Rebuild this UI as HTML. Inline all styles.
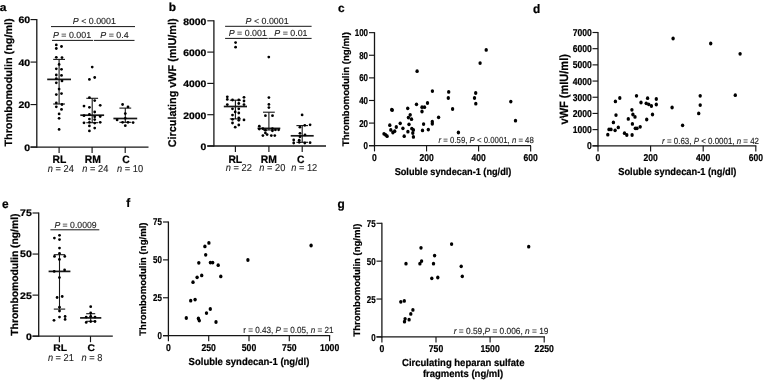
<!DOCTYPE html>
<html><head><meta charset="utf-8"><title>Figure</title>
<style>
html,body{margin:0;padding:0;background:#fff;}
body{width:763px;height:381px;overflow:hidden;}
svg{will-change:transform;display:block;position:absolute;left:0;top:0;font-family:"Liberation Sans", sans-serif;}
</style></head><body>
<svg width="763" height="381" viewBox="0 0 763 381" text-rendering="geometricPrecision">
<rect width="763" height="381" fill="#fff"/>
<g fill="#000">
<text transform="translate(-0.20 10.70) scale(1.1 1)" font-size="11.0" font-weight="bold" fill="#000" stroke="#000" stroke-width="0.22">a</text>
<line x1="36.80" y1="19.00" x2="36.80" y2="147.65" stroke="#161616" stroke-width="1.3"/>
<line x1="30.50" y1="147.05" x2="148.50" y2="147.05" stroke="#161616" stroke-width="1.3"/>
<line x1="30.50" y1="147.05" x2="36.80" y2="147.05" stroke="#161616" stroke-width="1.15"/>
<text transform="translate(30.20 150.85) scale(1.125 1)" font-size="9.41" font-weight="bold" text-anchor="end" fill="#000" stroke="#000" stroke-width="0.22">0</text>
<line x1="30.50" y1="104.57" x2="36.80" y2="104.57" stroke="#161616" stroke-width="1.15"/>
<text transform="translate(30.20 108.37) scale(1.125 1)" font-size="9.41" font-weight="bold" text-anchor="end" fill="#000" stroke="#000" stroke-width="0.22">20</text>
<line x1="30.50" y1="62.08" x2="36.80" y2="62.08" stroke="#161616" stroke-width="1.15"/>
<text transform="translate(30.20 65.88) scale(1.125 1)" font-size="9.41" font-weight="bold" text-anchor="end" fill="#000" stroke="#000" stroke-width="0.22">40</text>
<line x1="30.50" y1="19.60" x2="36.80" y2="19.60" stroke="#161616" stroke-width="1.15"/>
<text transform="translate(30.20 23.40) scale(1.125 1)" font-size="9.41" font-weight="bold" text-anchor="end" fill="#000" stroke="#000" stroke-width="0.22">60</text>
<line x1="59.10" y1="147.05" x2="59.10" y2="153.05" stroke="#161616" stroke-width="1.15"/>
<line x1="92.10" y1="147.05" x2="92.10" y2="153.05" stroke="#161616" stroke-width="1.15"/>
<line x1="125.20" y1="147.05" x2="125.20" y2="153.05" stroke="#161616" stroke-width="1.15"/>
<text transform="translate(12.00 146.60) rotate(-90) scale(1.0236 1)" font-size="10.6" font-weight="bold" fill="#000" stroke="#000" stroke-width="0.22">Thrombomodulin (ng/ml)</text>
<text transform="translate(59.40 162.70) scale(0.9643 1)" font-size="10.75" font-weight="bold" text-anchor="middle" fill="#000" stroke="#000" stroke-width="0.22">RL</text>
<text transform="translate(60.80 172.20) scale(0.9196 1)" font-size="10.08" text-anchor="middle" fill="#222" stroke="#222" stroke-width="0.12"><tspan font-style="italic">n</tspan> = 24</text>
<text transform="translate(92.70 162.70) scale(0.9643 1)" font-size="10.75" font-weight="bold" text-anchor="middle" fill="#000" stroke="#000" stroke-width="0.22">RM</text>
<text transform="translate(95.30 172.20) scale(0.9196 1)" font-size="10.08" text-anchor="middle" fill="#222" stroke="#222" stroke-width="0.12"><tspan font-style="italic">n</tspan> = 24</text>
<text transform="translate(126.00 162.70) scale(0.9643 1)" font-size="10.75" font-weight="bold" text-anchor="middle" fill="#000" stroke="#000" stroke-width="0.22">C</text>
<text transform="translate(130.10 172.20) scale(0.9196 1)" font-size="10.08" text-anchor="middle" fill="#222" stroke="#222" stroke-width="0.12"><tspan font-style="italic">n</tspan> = 10</text>
<line x1="51.00" y1="26.60" x2="135.00" y2="26.60" stroke="#161616" stroke-width="1.0"/>
<line x1="52.00" y1="40.40" x2="93.20" y2="40.40" stroke="#161616" stroke-width="1.0"/>
<line x1="94.00" y1="40.40" x2="134.50" y2="40.40" stroke="#161616" stroke-width="1.0"/>
<text transform="translate(94.30 23.50) scale(1.0098 1)" font-size="8.77" text-anchor="middle" fill="#222" stroke="#222" stroke-width="0.12"><tspan font-style="italic">P</tspan> &lt; 0.0001</text>
<text transform="translate(72.00 37.80) scale(1.0098 1)" font-size="8.77" text-anchor="middle" fill="#222" stroke="#222" stroke-width="0.12"><tspan font-style="italic">P</tspan> = 0.001</text>
<text transform="translate(114.50 37.80) scale(1.0098 1)" font-size="8.77" text-anchor="middle" fill="#222" stroke="#222" stroke-width="0.12"><tspan font-style="italic">P</tspan> = 0.4</text>
<line x1="59.10" y1="59.40" x2="59.10" y2="104.00" stroke="#161616" stroke-width="1.1"/>
<line x1="53.20" y1="59.40" x2="65.00" y2="59.40" stroke="#161616" stroke-width="1.1"/>
<line x1="53.20" y1="104.00" x2="65.00" y2="104.00" stroke="#161616" stroke-width="1.1"/>
<line x1="47.20" y1="79.40" x2="71.00" y2="79.40" stroke="#161616" stroke-width="1.7"/>
<line x1="92.20" y1="98.30" x2="92.20" y2="122.70" stroke="#161616" stroke-width="1.1"/>
<line x1="86.30" y1="98.30" x2="98.10" y2="98.30" stroke="#161616" stroke-width="1.1"/>
<line x1="86.30" y1="122.70" x2="98.10" y2="122.70" stroke="#161616" stroke-width="1.1"/>
<line x1="80.30" y1="115.20" x2="104.10" y2="115.20" stroke="#161616" stroke-width="1.7"/>
<line x1="125.30" y1="108.10" x2="125.30" y2="122.30" stroke="#161616" stroke-width="1.1"/>
<line x1="119.40" y1="108.10" x2="131.20" y2="108.10" stroke="#161616" stroke-width="1.1"/>
<line x1="119.40" y1="122.30" x2="131.20" y2="122.30" stroke="#161616" stroke-width="1.1"/>
<line x1="113.40" y1="118.50" x2="137.20" y2="118.50" stroke="#161616" stroke-width="1.7"/>
<circle cx="56.3" cy="44.9" r="1.38"/>
<circle cx="56.3" cy="48.5" r="1.38"/>
<circle cx="61.5" cy="46.5" r="1.38"/>
<circle cx="56.3" cy="57.3" r="1.38"/>
<circle cx="62.0" cy="57.6" r="1.38"/>
<circle cx="59.1" cy="64.4" r="1.38"/>
<circle cx="56.3" cy="68.8" r="1.38"/>
<circle cx="61.5" cy="69.3" r="1.38"/>
<circle cx="56.3" cy="75.0" r="1.38"/>
<circle cx="61.5" cy="75.4" r="1.38"/>
<circle cx="56.3" cy="78.6" r="1.38"/>
<circle cx="62.0" cy="80.9" r="1.38"/>
<circle cx="56.3" cy="82.8" r="1.38"/>
<circle cx="59.1" cy="89.1" r="1.38"/>
<circle cx="56.3" cy="94.6" r="1.38"/>
<circle cx="61.5" cy="93.6" r="1.38"/>
<circle cx="62.0" cy="104.5" r="1.38"/>
<circle cx="56.3" cy="102.9" r="1.38"/>
<circle cx="56.3" cy="106.8" r="1.38"/>
<circle cx="61.5" cy="109.4" r="1.38"/>
<circle cx="59.1" cy="113.9" r="1.38"/>
<circle cx="59.1" cy="118.3" r="1.38"/>
<circle cx="59.1" cy="129.4" r="1.38"/>
<circle cx="92.2" cy="67.1" r="1.38"/>
<circle cx="89.4" cy="79.4" r="1.38"/>
<circle cx="94.7" cy="77.5" r="1.38"/>
<circle cx="89.4" cy="97.6" r="1.38"/>
<circle cx="94.7" cy="100.6" r="1.38"/>
<circle cx="84.0" cy="106.1" r="1.38"/>
<circle cx="89.4" cy="107.3" r="1.38"/>
<circle cx="100.2" cy="105.3" r="1.38"/>
<circle cx="94.7" cy="112.0" r="1.38"/>
<circle cx="89.4" cy="114.4" r="1.38"/>
<circle cx="84.0" cy="115.7" r="1.38"/>
<circle cx="100.2" cy="116.5" r="1.38"/>
<circle cx="94.7" cy="116.8" r="1.38"/>
<circle cx="89.4" cy="119.1" r="1.38"/>
<circle cx="94.7" cy="119.6" r="1.38"/>
<circle cx="84.0" cy="122.8" r="1.38"/>
<circle cx="100.2" cy="122.3" r="1.38"/>
<circle cx="89.4" cy="122.3" r="1.38"/>
<circle cx="94.7" cy="123.1" r="1.38"/>
<circle cx="89.4" cy="125.9" r="1.38"/>
<circle cx="94.7" cy="128.1" r="1.38"/>
<circle cx="89.4" cy="130.9" r="1.38"/>
<circle cx="122.6" cy="104.5" r="1.38"/>
<circle cx="128.0" cy="106.9" r="1.38"/>
<circle cx="125.3" cy="113.6" r="1.38"/>
<circle cx="117.1" cy="119.9" r="1.38"/>
<circle cx="125.3" cy="118.3" r="1.38"/>
<circle cx="122.6" cy="122.3" r="1.38"/>
<circle cx="128.0" cy="122.3" r="1.38"/>
<circle cx="133.1" cy="122.6" r="1.38"/>
<circle cx="125.3" cy="125.7" r="1.38"/>
<text transform="translate(168.70 10.90) scale(1.0189 1)" font-size="11.66" font-weight="bold" fill="#000" stroke="#000" stroke-width="0.22">b</text>
<line x1="213.90" y1="20.20" x2="213.90" y2="146.60" stroke="#161616" stroke-width="1.3"/>
<line x1="207.30" y1="146.00" x2="326.00" y2="146.00" stroke="#161616" stroke-width="1.3"/>
<line x1="207.30" y1="146.00" x2="213.90" y2="146.00" stroke="#161616" stroke-width="1.15"/>
<text transform="translate(206.40 149.90) scale(1.1042 1)" font-size="9.41" font-weight="bold" text-anchor="end" fill="#000" stroke="#000" stroke-width="0.22">0</text>
<line x1="207.30" y1="114.70" x2="213.90" y2="114.70" stroke="#161616" stroke-width="1.15"/>
<text transform="translate(206.40 118.60) scale(1.1042 1)" font-size="9.41" font-weight="bold" text-anchor="end" fill="#000" stroke="#000" stroke-width="0.22">2000</text>
<line x1="207.30" y1="83.40" x2="213.90" y2="83.40" stroke="#161616" stroke-width="1.15"/>
<text transform="translate(206.40 87.30) scale(1.1042 1)" font-size="9.41" font-weight="bold" text-anchor="end" fill="#000" stroke="#000" stroke-width="0.22">4000</text>
<line x1="207.30" y1="52.10" x2="213.90" y2="52.10" stroke="#161616" stroke-width="1.15"/>
<text transform="translate(206.40 56.00) scale(1.1042 1)" font-size="9.41" font-weight="bold" text-anchor="end" fill="#000" stroke="#000" stroke-width="0.22">6000</text>
<line x1="207.30" y1="20.80" x2="213.90" y2="20.80" stroke="#161616" stroke-width="1.15"/>
<text transform="translate(206.40 24.70) scale(1.1042 1)" font-size="9.41" font-weight="bold" text-anchor="end" fill="#000" stroke="#000" stroke-width="0.22">8000</text>
<line x1="235.40" y1="146.00" x2="235.40" y2="152.00" stroke="#161616" stroke-width="1.15"/>
<line x1="268.90" y1="146.00" x2="268.90" y2="152.00" stroke="#161616" stroke-width="1.15"/>
<line x1="302.20" y1="146.00" x2="302.20" y2="152.00" stroke="#161616" stroke-width="1.15"/>
<text transform="translate(175.80 147.30) rotate(-90) scale(0.9687 1)" font-size="11.2" font-weight="bold" fill="#000" stroke="#000" stroke-width="0.22">Circulating vWF (mIU/ml)</text>
<text transform="translate(235.30 163.00) scale(0.9643 1)" font-size="10.75" font-weight="bold" text-anchor="middle" fill="#000" stroke="#000" stroke-width="0.22">RL</text>
<text transform="translate(238.80 171.40) scale(0.9196 1)" font-size="10.08" text-anchor="middle" fill="#222" stroke="#222" stroke-width="0.12"><tspan font-style="italic">n</tspan> = 22</text>
<text transform="translate(268.80 163.00) scale(0.9643 1)" font-size="10.75" font-weight="bold" text-anchor="middle" fill="#000" stroke="#000" stroke-width="0.22">RM</text>
<text transform="translate(272.30 171.40) scale(0.9196 1)" font-size="10.08" text-anchor="middle" fill="#222" stroke="#222" stroke-width="0.12"><tspan font-style="italic">n</tspan> = 20</text>
<text transform="translate(300.70 163.00) scale(0.9643 1)" font-size="10.75" font-weight="bold" text-anchor="middle" fill="#000" stroke="#000" stroke-width="0.22">C</text>
<text transform="translate(304.20 171.40) scale(0.9196 1)" font-size="10.08" text-anchor="middle" fill="#222" stroke="#222" stroke-width="0.12"><tspan font-style="italic">n</tspan> = 12</text>
<line x1="225.10" y1="26.30" x2="311.60" y2="26.30" stroke="#161616" stroke-width="1.0"/>
<line x1="225.10" y1="38.40" x2="267.80" y2="38.40" stroke="#161616" stroke-width="1.0"/>
<line x1="268.50" y1="38.40" x2="311.60" y2="38.40" stroke="#161616" stroke-width="1.0"/>
<text transform="translate(267.10 23.60) scale(1.0098 1)" font-size="8.77" text-anchor="middle" fill="#222" stroke="#222" stroke-width="0.12"><tspan font-style="italic">P</tspan> &lt; 0.0001</text>
<text transform="translate(247.80 36.00) scale(1.0098 1)" font-size="8.77" text-anchor="middle" fill="#222" stroke="#222" stroke-width="0.12"><tspan font-style="italic">P</tspan> = 0.001</text>
<text transform="translate(290.90 36.00) scale(1.0098 1)" font-size="8.77" text-anchor="middle" fill="#222" stroke="#222" stroke-width="0.12"><tspan font-style="italic">P</tspan> = 0.01</text>
<line x1="235.40" y1="100.20" x2="235.40" y2="118.90" stroke="#161616" stroke-width="1.1"/>
<line x1="229.80" y1="100.20" x2="241.00" y2="100.20" stroke="#161616" stroke-width="1.1"/>
<line x1="229.80" y1="118.90" x2="241.00" y2="118.90" stroke="#161616" stroke-width="1.1"/>
<line x1="223.80" y1="106.50" x2="247.00" y2="106.50" stroke="#161616" stroke-width="1.7"/>
<line x1="268.90" y1="112.20" x2="268.90" y2="130.00" stroke="#161616" stroke-width="1.1"/>
<line x1="263.00" y1="112.20" x2="274.80" y2="112.20" stroke="#161616" stroke-width="1.1"/>
<line x1="263.00" y1="130.00" x2="274.80" y2="130.00" stroke="#161616" stroke-width="1.1"/>
<line x1="257.50" y1="128.40" x2="280.30" y2="128.40" stroke="#161616" stroke-width="1.7"/>
<line x1="302.20" y1="125.60" x2="302.20" y2="142.30" stroke="#161616" stroke-width="1.1"/>
<line x1="296.40" y1="125.60" x2="308.00" y2="125.60" stroke="#161616" stroke-width="1.1"/>
<line x1="296.40" y1="142.30" x2="308.00" y2="142.30" stroke="#161616" stroke-width="1.1"/>
<line x1="290.70" y1="135.80" x2="313.70" y2="135.80" stroke="#161616" stroke-width="1.7"/>
<circle cx="235.6" cy="42.6" r="1.38"/>
<circle cx="235.6" cy="47.2" r="1.38"/>
<circle cx="268.8" cy="57.1" r="1.38"/>
<circle cx="227.3" cy="96.8" r="1.38"/>
<circle cx="227.3" cy="99.4" r="1.38"/>
<circle cx="232.5" cy="100.0" r="1.38"/>
<circle cx="238.8" cy="100.0" r="1.38"/>
<circle cx="244.0" cy="97.3" r="1.38"/>
<circle cx="244.0" cy="101.0" r="1.38"/>
<circle cx="227.3" cy="104.6" r="1.38"/>
<circle cx="238.8" cy="103.5" r="1.38"/>
<circle cx="244.0" cy="104.6" r="1.38"/>
<circle cx="232.5" cy="108.8" r="1.38"/>
<circle cx="238.8" cy="108.8" r="1.38"/>
<circle cx="235.2" cy="111.9" r="1.38"/>
<circle cx="238.8" cy="113.0" r="1.38"/>
<circle cx="232.5" cy="115.1" r="1.38"/>
<circle cx="238.8" cy="117.8" r="1.38"/>
<circle cx="232.5" cy="119.3" r="1.38"/>
<circle cx="238.8" cy="120.3" r="1.38"/>
<circle cx="244.0" cy="119.9" r="1.38"/>
<circle cx="232.5" cy="123.0" r="1.38"/>
<circle cx="238.8" cy="125.0" r="1.38"/>
<circle cx="235.2" cy="127.2" r="1.38"/>
<circle cx="268.9" cy="97.6" r="1.38"/>
<circle cx="268.9" cy="104.4" r="1.38"/>
<circle cx="268.9" cy="107.6" r="1.38"/>
<circle cx="272.5" cy="115.7" r="1.38"/>
<circle cx="265.4" cy="115.7" r="1.38"/>
<circle cx="259.3" cy="126.2" r="1.38"/>
<circle cx="259.3" cy="129.1" r="1.38"/>
<circle cx="262.9" cy="128.7" r="1.38"/>
<circle cx="265.4" cy="130.2" r="1.38"/>
<circle cx="272.4" cy="128.7" r="1.38"/>
<circle cx="275.5" cy="129.8" r="1.38"/>
<circle cx="278.6" cy="129.8" r="1.38"/>
<circle cx="272.4" cy="130.8" r="1.38"/>
<circle cx="265.4" cy="132.9" r="1.38"/>
<circle cx="262.9" cy="135.6" r="1.38"/>
<circle cx="267.1" cy="134.6" r="1.38"/>
<circle cx="271.3" cy="135.6" r="1.38"/>
<circle cx="274.8" cy="135.6" r="1.38"/>
<circle cx="302.1" cy="114.9" r="1.38"/>
<circle cx="304.8" cy="125.3" r="1.38"/>
<circle cx="310.1" cy="124.8" r="1.38"/>
<circle cx="299.9" cy="127.2" r="1.38"/>
<circle cx="300.0" cy="133.3" r="1.38"/>
<circle cx="305.0" cy="134.9" r="1.38"/>
<circle cx="300.0" cy="136.8" r="1.38"/>
<circle cx="293.7" cy="140.0" r="1.38"/>
<circle cx="299.2" cy="140.2" r="1.38"/>
<circle cx="293.7" cy="143.0" r="1.38"/>
<circle cx="299.2" cy="142.3" r="1.38"/>
<circle cx="304.8" cy="143.0" r="1.38"/>
<circle cx="310.1" cy="142.7" r="1.38"/>
<text transform="translate(338.00 11.70) scale(1.0189 1)" font-size="11.66" font-weight="bold" fill="#000" stroke="#000" stroke-width="0.22">c</text>
<line x1="374.50" y1="32.15" x2="374.50" y2="146.30" stroke="#161616" stroke-width="1.3"/>
<line x1="369.00" y1="145.70" x2="531.00" y2="145.70" stroke="#161616" stroke-width="1.3"/>
<line x1="369.00" y1="145.70" x2="374.50" y2="145.70" stroke="#161616" stroke-width="1.15"/>
<text transform="translate(368.00 149.20) scale(0.7969 1)" font-size="9.98" font-weight="bold" text-anchor="end" fill="#000" stroke="#000" stroke-width="0.22">0</text>
<line x1="369.00" y1="123.09" x2="374.50" y2="123.09" stroke="#161616" stroke-width="1.15"/>
<text transform="translate(368.00 126.59) scale(0.7969 1)" font-size="9.98" font-weight="bold" text-anchor="end" fill="#000" stroke="#000" stroke-width="0.22">20</text>
<line x1="369.00" y1="100.48" x2="374.50" y2="100.48" stroke="#161616" stroke-width="1.15"/>
<text transform="translate(368.00 103.98) scale(0.7969 1)" font-size="9.98" font-weight="bold" text-anchor="end" fill="#000" stroke="#000" stroke-width="0.22">40</text>
<line x1="369.00" y1="77.87" x2="374.50" y2="77.87" stroke="#161616" stroke-width="1.15"/>
<text transform="translate(368.00 81.37) scale(0.7969 1)" font-size="9.98" font-weight="bold" text-anchor="end" fill="#000" stroke="#000" stroke-width="0.22">60</text>
<line x1="369.00" y1="55.26" x2="374.50" y2="55.26" stroke="#161616" stroke-width="1.15"/>
<text transform="translate(368.00 58.76) scale(0.7969 1)" font-size="9.98" font-weight="bold" text-anchor="end" fill="#000" stroke="#000" stroke-width="0.22">80</text>
<line x1="369.00" y1="32.65" x2="374.50" y2="32.65" stroke="#161616" stroke-width="1.15"/>
<text transform="translate(368.00 36.15) scale(0.7969 1)" font-size="9.98" font-weight="bold" text-anchor="end" fill="#000" stroke="#000" stroke-width="0.22">100</text>
<line x1="374.50" y1="145.70" x2="374.50" y2="151.40" stroke="#161616" stroke-width="1.15"/>
<text transform="translate(374.50 161.20) scale(0.8594 1)" font-size="9.98" font-weight="bold" text-anchor="middle" fill="#000" stroke="#000" stroke-width="0.22">0</text>
<line x1="426.55" y1="145.70" x2="426.55" y2="151.40" stroke="#161616" stroke-width="1.15"/>
<text transform="translate(426.55 161.20) scale(0.8594 1)" font-size="9.98" font-weight="bold" text-anchor="middle" fill="#000" stroke="#000" stroke-width="0.22">200</text>
<line x1="478.60" y1="145.70" x2="478.60" y2="151.40" stroke="#161616" stroke-width="1.15"/>
<text transform="translate(478.60 161.20) scale(0.8594 1)" font-size="9.98" font-weight="bold" text-anchor="middle" fill="#000" stroke="#000" stroke-width="0.22">400</text>
<line x1="530.65" y1="145.70" x2="530.65" y2="151.40" stroke="#161616" stroke-width="1.15"/>
<text transform="translate(530.65 161.20) scale(0.8594 1)" font-size="9.98" font-weight="bold" text-anchor="middle" fill="#000" stroke="#000" stroke-width="0.22">600</text>
<text transform="translate(348.70 146.20) rotate(-90) scale(1.0113 1)" font-size="9.54" font-weight="bold" fill="#000" stroke="#000" stroke-width="0.22">Thrombomodulin (ng/ml)</text>
<text transform="translate(453.00 174.90) scale(0.9291 1)" font-size="9.9" font-weight="bold" text-anchor="middle" fill="#000" stroke="#000" stroke-width="0.22">Soluble syndecan-1 (ng/dl)</text>
<text transform="translate(533.80 143.20) scale(0.8929 1)" font-size="8.74" text-anchor="end" fill="#222" stroke="#222" stroke-width="0.12"><tspan font-style="italic">r</tspan> = 0.59, <tspan font-style="italic">P</tspan> &lt; 0.0001, <tspan font-style="italic">n</tspan> = 48</text>
<ellipse cx="486.2" cy="49.9" rx="1.68" ry="1.92"/>
<ellipse cx="480.1" cy="63.1" rx="1.68" ry="1.92"/>
<ellipse cx="417.1" cy="71.2" rx="1.68" ry="1.92"/>
<ellipse cx="432.4" cy="91.1" rx="1.68" ry="1.92"/>
<ellipse cx="448.7" cy="91.9" rx="1.68" ry="1.92"/>
<ellipse cx="475.7" cy="93.0" rx="1.68" ry="1.92"/>
<ellipse cx="448.3" cy="98.0" rx="1.68" ry="1.92"/>
<ellipse cx="474.5" cy="98.0" rx="1.68" ry="1.92"/>
<ellipse cx="510.8" cy="101.6" rx="1.68" ry="1.92"/>
<ellipse cx="475.8" cy="103.7" rx="1.68" ry="1.92"/>
<ellipse cx="427.5" cy="103.0" rx="1.68" ry="1.92"/>
<ellipse cx="416.5" cy="104.3" rx="1.68" ry="1.92"/>
<ellipse cx="422.0" cy="107.2" rx="1.68" ry="1.92"/>
<ellipse cx="424.5" cy="107.2" rx="1.68" ry="1.92"/>
<ellipse cx="407.7" cy="108.3" rx="1.68" ry="1.92"/>
<ellipse cx="391.7" cy="109.7" rx="1.68" ry="1.92"/>
<ellipse cx="392.3" cy="110.1" rx="1.68" ry="1.92"/>
<ellipse cx="452.6" cy="109.0" rx="1.68" ry="1.92"/>
<ellipse cx="422.0" cy="111.5" rx="1.68" ry="1.92"/>
<ellipse cx="410.2" cy="114.8" rx="1.68" ry="1.92"/>
<ellipse cx="408.4" cy="117.6" rx="1.68" ry="1.92"/>
<ellipse cx="411.5" cy="119.2" rx="1.68" ry="1.92"/>
<ellipse cx="438.6" cy="117.3" rx="1.68" ry="1.92"/>
<ellipse cx="515.5" cy="120.7" rx="1.68" ry="1.92"/>
<ellipse cx="432.3" cy="121.7" rx="1.68" ry="1.92"/>
<ellipse cx="400.2" cy="123.3" rx="1.68" ry="1.92"/>
<ellipse cx="409.0" cy="124.3" rx="1.68" ry="1.92"/>
<ellipse cx="423.6" cy="124.1" rx="1.68" ry="1.92"/>
<ellipse cx="432.3" cy="123.8" rx="1.68" ry="1.92"/>
<ellipse cx="389.8" cy="125.2" rx="1.68" ry="1.92"/>
<ellipse cx="396.3" cy="127.0" rx="1.68" ry="1.92"/>
<ellipse cx="402.9" cy="128.3" rx="1.68" ry="1.92"/>
<ellipse cx="411.8" cy="128.6" rx="1.68" ry="1.92"/>
<ellipse cx="413.4" cy="129.9" rx="1.68" ry="1.92"/>
<ellipse cx="390.8" cy="129.9" rx="1.68" ry="1.92"/>
<ellipse cx="422.5" cy="130.4" rx="1.68" ry="1.92"/>
<ellipse cx="428.3" cy="129.6" rx="1.68" ry="1.92"/>
<ellipse cx="407.9" cy="131.7" rx="1.68" ry="1.92"/>
<ellipse cx="412.8" cy="133.0" rx="1.68" ry="1.92"/>
<ellipse cx="392.9" cy="132.5" rx="1.68" ry="1.92"/>
<ellipse cx="394.7" cy="131.2" rx="1.68" ry="1.92"/>
<ellipse cx="458.4" cy="132.5" rx="1.68" ry="1.92"/>
<ellipse cx="384.0" cy="133.8" rx="1.68" ry="1.92"/>
<ellipse cx="385.6" cy="134.8" rx="1.68" ry="1.92"/>
<ellipse cx="387.1" cy="136.2" rx="1.68" ry="1.92"/>
<ellipse cx="404.2" cy="136.2" rx="1.68" ry="1.92"/>
<ellipse cx="413.4" cy="136.9" rx="1.68" ry="1.92"/>
<text transform="translate(533.10 12.60) scale(0.9643 1)" font-size="12.32" font-weight="bold" fill="#000" stroke="#000" stroke-width="0.22">d</text>
<line x1="598.00" y1="32.00" x2="598.00" y2="146.40" stroke="#161616" stroke-width="1.3"/>
<line x1="592.50" y1="145.80" x2="756.30" y2="145.80" stroke="#161616" stroke-width="1.3"/>
<line x1="592.50" y1="145.80" x2="598.00" y2="145.80" stroke="#161616" stroke-width="1.15"/>
<text transform="translate(591.80 149.30) scale(0.8594 1)" font-size="9.98" font-weight="bold" text-anchor="end" fill="#000" stroke="#000" stroke-width="0.22">0</text>
<line x1="592.50" y1="129.61" x2="598.00" y2="129.61" stroke="#161616" stroke-width="1.15"/>
<text transform="translate(591.80 133.11) scale(0.8594 1)" font-size="9.98" font-weight="bold" text-anchor="end" fill="#000" stroke="#000" stroke-width="0.22">1000</text>
<line x1="592.50" y1="113.43" x2="598.00" y2="113.43" stroke="#161616" stroke-width="1.15"/>
<text transform="translate(591.80 116.93) scale(0.8594 1)" font-size="9.98" font-weight="bold" text-anchor="end" fill="#000" stroke="#000" stroke-width="0.22">2000</text>
<line x1="592.50" y1="97.24" x2="598.00" y2="97.24" stroke="#161616" stroke-width="1.15"/>
<text transform="translate(591.80 100.74) scale(0.8594 1)" font-size="9.98" font-weight="bold" text-anchor="end" fill="#000" stroke="#000" stroke-width="0.22">3000</text>
<line x1="592.50" y1="81.06" x2="598.00" y2="81.06" stroke="#161616" stroke-width="1.15"/>
<text transform="translate(591.80 84.56) scale(0.8594 1)" font-size="9.98" font-weight="bold" text-anchor="end" fill="#000" stroke="#000" stroke-width="0.22">4000</text>
<line x1="592.50" y1="64.87" x2="598.00" y2="64.87" stroke="#161616" stroke-width="1.15"/>
<text transform="translate(591.80 68.37) scale(0.8594 1)" font-size="9.98" font-weight="bold" text-anchor="end" fill="#000" stroke="#000" stroke-width="0.22">5000</text>
<line x1="592.50" y1="48.68" x2="598.00" y2="48.68" stroke="#161616" stroke-width="1.15"/>
<text transform="translate(591.80 52.18) scale(0.8594 1)" font-size="9.98" font-weight="bold" text-anchor="end" fill="#000" stroke="#000" stroke-width="0.22">6000</text>
<line x1="592.50" y1="32.50" x2="598.00" y2="32.50" stroke="#161616" stroke-width="1.15"/>
<text transform="translate(591.80 36.00) scale(0.8594 1)" font-size="9.98" font-weight="bold" text-anchor="end" fill="#000" stroke="#000" stroke-width="0.22">7000</text>
<line x1="598.00" y1="145.80" x2="598.00" y2="151.50" stroke="#161616" stroke-width="1.15"/>
<text transform="translate(598.00 161.10) scale(0.8594 1)" font-size="9.98" font-weight="bold" text-anchor="middle" fill="#000" stroke="#000" stroke-width="0.22">0</text>
<line x1="650.60" y1="145.80" x2="650.60" y2="151.50" stroke="#161616" stroke-width="1.15"/>
<text transform="translate(650.60 161.10) scale(0.8594 1)" font-size="9.98" font-weight="bold" text-anchor="middle" fill="#000" stroke="#000" stroke-width="0.22">200</text>
<line x1="703.20" y1="145.80" x2="703.20" y2="151.50" stroke="#161616" stroke-width="1.15"/>
<text transform="translate(703.20 161.10) scale(0.8594 1)" font-size="9.98" font-weight="bold" text-anchor="middle" fill="#000" stroke="#000" stroke-width="0.22">400</text>
<line x1="755.80" y1="145.80" x2="755.80" y2="151.50" stroke="#161616" stroke-width="1.15"/>
<text transform="translate(755.80 161.10) scale(0.8594 1)" font-size="9.98" font-weight="bold" text-anchor="middle" fill="#000" stroke="#000" stroke-width="0.22">600</text>
<text transform="translate(567.70 124.50) rotate(-90) scale(0.9217 1)" font-size="11.96" font-weight="bold" fill="#000" stroke="#000" stroke-width="0.22">vWF (mIU/ml)</text>
<text transform="translate(677.30 174.60) scale(0.9182 1)" font-size="10.12" font-weight="bold" text-anchor="middle" fill="#000" stroke="#000" stroke-width="0.22">Soluble syndecan-1 (ng/dl)</text>
<text transform="translate(759.00 143.60) scale(0.8973 1)" font-size="8.85" text-anchor="end" fill="#222" stroke="#222" stroke-width="0.12"><tspan font-style="italic">r</tspan> = 0.63, <tspan font-style="italic">P</tspan> &lt; 0.0001, <tspan font-style="italic">n</tspan> = 42</text>
<ellipse cx="673.1" cy="38.5" rx="1.68" ry="1.92"/>
<ellipse cx="710.7" cy="43.5" rx="1.68" ry="1.92"/>
<ellipse cx="740.1" cy="53.8" rx="1.68" ry="1.92"/>
<ellipse cx="700.2" cy="95.8" rx="1.68" ry="1.92"/>
<ellipse cx="735.3" cy="95.2" rx="1.68" ry="1.92"/>
<ellipse cx="636.5" cy="95.8" rx="1.68" ry="1.92"/>
<ellipse cx="619.8" cy="98.0" rx="1.68" ry="1.92"/>
<ellipse cx="615.4" cy="101.4" rx="1.68" ry="1.92"/>
<ellipse cx="647.6" cy="98.2" rx="1.68" ry="1.92"/>
<ellipse cx="656.3" cy="99.0" rx="1.68" ry="1.92"/>
<ellipse cx="641.0" cy="102.5" rx="1.68" ry="1.92"/>
<ellipse cx="646.2" cy="103.3" rx="1.68" ry="1.92"/>
<ellipse cx="648.7" cy="104.3" rx="1.68" ry="1.92"/>
<ellipse cx="651.4" cy="106.0" rx="1.68" ry="1.92"/>
<ellipse cx="656.3" cy="104.5" rx="1.68" ry="1.92"/>
<ellipse cx="672.1" cy="107.5" rx="1.68" ry="1.92"/>
<ellipse cx="700.2" cy="105.1" rx="1.68" ry="1.92"/>
<ellipse cx="631.9" cy="109.8" rx="1.68" ry="1.92"/>
<ellipse cx="616.0" cy="115.1" rx="1.68" ry="1.92"/>
<ellipse cx="652.5" cy="114.5" rx="1.68" ry="1.92"/>
<ellipse cx="698.7" cy="113.4" rx="1.68" ry="1.92"/>
<ellipse cx="632.9" cy="114.5" rx="1.68" ry="1.92"/>
<ellipse cx="635.0" cy="116.9" rx="1.68" ry="1.92"/>
<ellipse cx="628.3" cy="118.9" rx="1.68" ry="1.92"/>
<ellipse cx="646.7" cy="119.5" rx="1.68" ry="1.92"/>
<ellipse cx="613.4" cy="122.4" rx="1.68" ry="1.92"/>
<ellipse cx="632.4" cy="123.9" rx="1.68" ry="1.92"/>
<ellipse cx="682.6" cy="125.3" rx="1.68" ry="1.92"/>
<ellipse cx="618.3" cy="127.4" rx="1.68" ry="1.92"/>
<ellipse cx="640.2" cy="126.8" rx="1.68" ry="1.92"/>
<ellipse cx="635.3" cy="128.3" rx="1.68" ry="1.92"/>
<ellipse cx="637.0" cy="128.3" rx="1.68" ry="1.92"/>
<ellipse cx="609.0" cy="129.4" rx="1.68" ry="1.92"/>
<ellipse cx="611.0" cy="129.4" rx="1.68" ry="1.92"/>
<ellipse cx="615.1" cy="130.3" rx="1.68" ry="1.92"/>
<ellipse cx="624.5" cy="133.2" rx="1.68" ry="1.92"/>
<ellipse cx="626.8" cy="135.0" rx="1.68" ry="1.92"/>
<ellipse cx="632.1" cy="135.0" rx="1.68" ry="1.92"/>
<ellipse cx="607.8" cy="134.7" rx="1.68" ry="1.92"/>
<text transform="translate(2.00 207.60) scale(0.9643 1)" font-size="12.32" font-weight="bold" fill="#000" stroke="#000" stroke-width="0.22">e</text>
<line x1="38.70" y1="212.50" x2="38.70" y2="336.80" stroke="#161616" stroke-width="1.3"/>
<line x1="32.50" y1="336.20" x2="112.80" y2="336.20" stroke="#161616" stroke-width="1.3"/>
<line x1="32.50" y1="336.20" x2="38.70" y2="336.20" stroke="#161616" stroke-width="1.15"/>
<text transform="translate(31.90 339.60) scale(1.125 1)" font-size="9.41" font-weight="bold" text-anchor="end" fill="#000" stroke="#000" stroke-width="0.22">0</text>
<line x1="32.50" y1="295.13" x2="38.70" y2="295.13" stroke="#161616" stroke-width="1.15"/>
<text transform="translate(31.90 298.53) scale(1.125 1)" font-size="9.41" font-weight="bold" text-anchor="end" fill="#000" stroke="#000" stroke-width="0.22">25</text>
<line x1="32.50" y1="254.06" x2="38.70" y2="254.06" stroke="#161616" stroke-width="1.15"/>
<text transform="translate(31.90 257.46) scale(1.125 1)" font-size="9.41" font-weight="bold" text-anchor="end" fill="#000" stroke="#000" stroke-width="0.22">50</text>
<line x1="32.50" y1="213.00" x2="38.70" y2="213.00" stroke="#161616" stroke-width="1.15"/>
<text transform="translate(31.90 216.40) scale(1.125 1)" font-size="9.41" font-weight="bold" text-anchor="end" fill="#000" stroke="#000" stroke-width="0.22">75</text>
<line x1="59.40" y1="336.20" x2="59.40" y2="342.20" stroke="#161616" stroke-width="1.15"/>
<line x1="90.50" y1="336.20" x2="90.50" y2="342.20" stroke="#161616" stroke-width="1.15"/>
<text transform="translate(17.60 335.70) rotate(-90) scale(1.0029 1)" font-size="10.3" font-weight="bold" fill="#000" stroke="#000" stroke-width="0.22">Thrombomodulin (ng/ml)</text>
<text transform="translate(60.10 351.40) scale(1.08 1)" font-size="9.6" font-weight="bold" text-anchor="middle" fill="#000" stroke="#000" stroke-width="0.22">RL</text>
<text transform="translate(60.90 360.70) scale(0.9196 1)" font-size="10.08" text-anchor="middle" fill="#222" stroke="#222" stroke-width="0.12"><tspan font-style="italic">n</tspan> = 21</text>
<text transform="translate(91.20 351.40) scale(1.08 1)" font-size="9.6" font-weight="bold" text-anchor="middle" fill="#000" stroke="#000" stroke-width="0.22">C</text>
<text transform="translate(92.00 360.70) scale(0.9196 1)" font-size="10.08" text-anchor="middle" fill="#222" stroke="#222" stroke-width="0.12"><tspan font-style="italic">n</tspan> = 8</text>
<line x1="50.40" y1="229.80" x2="99.30" y2="229.80" stroke="#161616" stroke-width="1.0"/>
<text transform="translate(75.50 227.80) scale(0.9902 1)" font-size="8.77" text-anchor="middle" fill="#222" stroke="#222" stroke-width="0.12"><tspan font-style="italic">P</tspan> = 0.0009</text>
<line x1="59.50" y1="254.70" x2="59.50" y2="309.10" stroke="#161616" stroke-width="1.1"/>
<line x1="53.80" y1="254.70" x2="65.20" y2="254.70" stroke="#161616" stroke-width="1.1"/>
<line x1="53.80" y1="309.10" x2="65.20" y2="309.10" stroke="#161616" stroke-width="1.1"/>
<line x1="48.60" y1="271.40" x2="70.40" y2="271.40" stroke="#161616" stroke-width="1.7"/>
<line x1="90.70" y1="313.70" x2="90.70" y2="321.30" stroke="#161616" stroke-width="1.1"/>
<line x1="86.20" y1="313.70" x2="95.20" y2="313.70" stroke="#161616" stroke-width="1.1"/>
<line x1="86.20" y1="321.30" x2="95.20" y2="321.30" stroke="#161616" stroke-width="1.1"/>
<line x1="80.10" y1="317.90" x2="101.30" y2="317.90" stroke="#161616" stroke-width="1.7"/>
<circle cx="54.4" cy="238.1" r="1.38"/>
<circle cx="59.5" cy="235.3" r="1.38"/>
<circle cx="59.5" cy="239.6" r="1.38"/>
<circle cx="59.5" cy="248.1" r="1.38"/>
<circle cx="59.5" cy="253.4" r="1.38"/>
<circle cx="54.5" cy="256.4" r="1.38"/>
<circle cx="64.8" cy="256.4" r="1.38"/>
<circle cx="59.4" cy="259.4" r="1.38"/>
<circle cx="54.2" cy="271.4" r="1.38"/>
<circle cx="64.6" cy="270.0" r="1.38"/>
<circle cx="59.4" cy="277.6" r="1.38"/>
<circle cx="57.1" cy="297.5" r="1.38"/>
<circle cx="62.2" cy="296.5" r="1.38"/>
<circle cx="59.5" cy="307.2" r="1.38"/>
<circle cx="59.5" cy="311.0" r="1.38"/>
<circle cx="59.5" cy="317.1" r="1.38"/>
<circle cx="65.1" cy="316.5" r="1.38"/>
<circle cx="65.1" cy="319.4" r="1.38"/>
<circle cx="54.0" cy="320.3" r="1.38"/>
<circle cx="90.7" cy="306.7" r="1.38"/>
<circle cx="90.7" cy="313.0" r="1.38"/>
<circle cx="86.2" cy="317.1" r="1.38"/>
<circle cx="90.7" cy="316.3" r="1.38"/>
<circle cx="95.0" cy="317.1" r="1.38"/>
<circle cx="86.2" cy="322.4" r="1.38"/>
<circle cx="90.7" cy="321.6" r="1.38"/>
<circle cx="95.0" cy="321.5" r="1.38"/>
<text transform="translate(126.30 207.10) scale(0.9643 1)" font-size="12.32" font-weight="bold" fill="#000" stroke="#000" stroke-width="0.22">f</text>
<line x1="168.40" y1="221.50" x2="168.40" y2="336.25" stroke="#161616" stroke-width="1.3"/>
<line x1="163.00" y1="335.65" x2="330.20" y2="335.65" stroke="#161616" stroke-width="1.3"/>
<line x1="163.00" y1="335.65" x2="168.40" y2="335.65" stroke="#161616" stroke-width="1.15"/>
<text transform="translate(161.80 338.95) scale(0.7969 1)" font-size="9.98" font-weight="bold" text-anchor="end" fill="#000" stroke="#000" stroke-width="0.22">0</text>
<line x1="163.00" y1="297.77" x2="168.40" y2="297.77" stroke="#161616" stroke-width="1.15"/>
<text transform="translate(161.80 301.07) scale(0.7969 1)" font-size="9.98" font-weight="bold" text-anchor="end" fill="#000" stroke="#000" stroke-width="0.22">25</text>
<line x1="163.00" y1="259.88" x2="168.40" y2="259.88" stroke="#161616" stroke-width="1.15"/>
<text transform="translate(161.80 263.19) scale(0.7969 1)" font-size="9.98" font-weight="bold" text-anchor="end" fill="#000" stroke="#000" stroke-width="0.22">50</text>
<line x1="163.00" y1="222.00" x2="168.40" y2="222.00" stroke="#161616" stroke-width="1.15"/>
<text transform="translate(161.80 225.30) scale(0.7969 1)" font-size="9.98" font-weight="bold" text-anchor="end" fill="#000" stroke="#000" stroke-width="0.22">75</text>
<line x1="168.40" y1="335.65" x2="168.40" y2="341.35" stroke="#161616" stroke-width="1.15"/>
<text transform="translate(168.40 350.50) scale(0.8672 1)" font-size="9.98" font-weight="bold" text-anchor="middle" fill="#000" stroke="#000" stroke-width="0.22">0</text>
<line x1="208.70" y1="335.65" x2="208.70" y2="341.35" stroke="#161616" stroke-width="1.15"/>
<text transform="translate(208.70 350.50) scale(0.8672 1)" font-size="9.98" font-weight="bold" text-anchor="middle" fill="#000" stroke="#000" stroke-width="0.22">250</text>
<line x1="249.00" y1="335.65" x2="249.00" y2="341.35" stroke="#161616" stroke-width="1.15"/>
<text transform="translate(249.00 350.50) scale(0.8672 1)" font-size="9.98" font-weight="bold" text-anchor="middle" fill="#000" stroke="#000" stroke-width="0.22">500</text>
<line x1="289.30" y1="335.65" x2="289.30" y2="341.35" stroke="#161616" stroke-width="1.15"/>
<text transform="translate(289.30 350.50) scale(0.8672 1)" font-size="9.98" font-weight="bold" text-anchor="middle" fill="#000" stroke="#000" stroke-width="0.22">750</text>
<line x1="329.60" y1="335.65" x2="329.60" y2="341.35" stroke="#161616" stroke-width="1.15"/>
<text transform="translate(329.60 350.50) scale(0.8672 1)" font-size="9.98" font-weight="bold" text-anchor="middle" fill="#000" stroke="#000" stroke-width="0.22">1000</text>
<text transform="translate(145.90 335.80) rotate(-90) scale(1.0152 1)" font-size="9.45" font-weight="bold" fill="#000" stroke="#000" stroke-width="0.22">Thrombomodulin (ng/ml)</text>
<text transform="translate(249.00 364.60) scale(0.9376 1)" font-size="10.14" font-weight="bold" text-anchor="middle" fill="#000" stroke="#000" stroke-width="0.22">Soluble syndecan-1 (ng/dl)</text>
<text transform="translate(333.50 332.70) scale(0.9196 1)" font-size="8.85" text-anchor="end" fill="#222" stroke="#222" stroke-width="0.12">r = 0.43, <tspan font-style="italic">P</tspan> = 0.05, <tspan font-style="italic">n</tspan> = 21</text>
<ellipse cx="208.9" cy="242.9" rx="1.68" ry="1.92"/>
<ellipse cx="204.9" cy="246.4" rx="1.68" ry="1.92"/>
<ellipse cx="205.7" cy="254.8" rx="1.68" ry="1.92"/>
<ellipse cx="198.8" cy="262.8" rx="1.68" ry="1.92"/>
<ellipse cx="210.4" cy="262.6" rx="1.68" ry="1.92"/>
<ellipse cx="212.7" cy="262.6" rx="1.68" ry="1.92"/>
<ellipse cx="218.2" cy="265.2" rx="1.68" ry="1.92"/>
<ellipse cx="247.9" cy="260.0" rx="1.68" ry="1.92"/>
<ellipse cx="311.1" cy="245.5" rx="1.68" ry="1.92"/>
<ellipse cx="220.8" cy="276.4" rx="1.68" ry="1.92"/>
<ellipse cx="201.7" cy="275.4" rx="1.68" ry="1.92"/>
<ellipse cx="197.1" cy="277.3" rx="1.68" ry="1.92"/>
<ellipse cx="193.0" cy="282.2" rx="1.68" ry="1.92"/>
<ellipse cx="190.7" cy="300.7" rx="1.68" ry="1.92"/>
<ellipse cx="195.1" cy="299.6" rx="1.68" ry="1.92"/>
<ellipse cx="210.3" cy="309.0" rx="1.68" ry="1.92"/>
<ellipse cx="206.5" cy="313.1" rx="1.68" ry="1.92"/>
<ellipse cx="186.3" cy="318.0" rx="1.68" ry="1.92"/>
<ellipse cx="198.4" cy="318.5" rx="1.68" ry="1.92"/>
<ellipse cx="199.3" cy="320.6" rx="1.68" ry="1.92"/>
<ellipse cx="216.0" cy="322.0" rx="1.68" ry="1.92"/>
<text transform="translate(337.50 208.30) scale(0.9643 1)" font-size="12.32" font-weight="bold" fill="#000" stroke="#000" stroke-width="0.22">g</text>
<line x1="381.90" y1="222.80" x2="381.90" y2="337.50" stroke="#161616" stroke-width="1.3"/>
<line x1="376.50" y1="336.90" x2="545.00" y2="336.90" stroke="#161616" stroke-width="1.3"/>
<line x1="376.50" y1="336.90" x2="381.90" y2="336.90" stroke="#161616" stroke-width="1.15"/>
<text transform="translate(375.70 340.60) scale(0.7969 1)" font-size="9.98" font-weight="bold" text-anchor="end" fill="#000" stroke="#000" stroke-width="0.22">0</text>
<line x1="376.50" y1="299.03" x2="381.90" y2="299.03" stroke="#161616" stroke-width="1.15"/>
<text transform="translate(375.70 302.73) scale(0.7969 1)" font-size="9.98" font-weight="bold" text-anchor="end" fill="#000" stroke="#000" stroke-width="0.22">25</text>
<line x1="376.50" y1="261.16" x2="381.90" y2="261.16" stroke="#161616" stroke-width="1.15"/>
<text transform="translate(375.70 264.86) scale(0.7969 1)" font-size="9.98" font-weight="bold" text-anchor="end" fill="#000" stroke="#000" stroke-width="0.22">50</text>
<line x1="376.50" y1="223.30" x2="381.90" y2="223.30" stroke="#161616" stroke-width="1.15"/>
<text transform="translate(375.70 227.00) scale(0.7969 1)" font-size="9.98" font-weight="bold" text-anchor="end" fill="#000" stroke="#000" stroke-width="0.22">75</text>
<line x1="381.90" y1="336.90" x2="381.90" y2="342.60" stroke="#161616" stroke-width="1.15"/>
<text transform="translate(381.90 351.70) scale(0.8672 1)" font-size="9.98" font-weight="bold" text-anchor="middle" fill="#000" stroke="#000" stroke-width="0.22">0</text>
<line x1="436.00" y1="336.90" x2="436.00" y2="342.60" stroke="#161616" stroke-width="1.15"/>
<text transform="translate(436.00 351.70) scale(0.8672 1)" font-size="9.98" font-weight="bold" text-anchor="middle" fill="#000" stroke="#000" stroke-width="0.22">750</text>
<line x1="490.10" y1="336.90" x2="490.10" y2="342.60" stroke="#161616" stroke-width="1.15"/>
<text transform="translate(490.10 351.70) scale(0.8672 1)" font-size="9.98" font-weight="bold" text-anchor="middle" fill="#000" stroke="#000" stroke-width="0.22">1500</text>
<line x1="544.20" y1="336.90" x2="544.20" y2="342.60" stroke="#161616" stroke-width="1.15"/>
<text transform="translate(544.20 351.70) scale(0.8672 1)" font-size="9.98" font-weight="bold" text-anchor="middle" fill="#000" stroke="#000" stroke-width="0.22">2250</text>
<text transform="translate(359.90 336.60) rotate(-90) scale(1.0114 1)" font-size="9.45" font-weight="bold" fill="#000" stroke="#000" stroke-width="0.22">Thrombomodulin (ng/ml)</text>
<text transform="translate(463.30 365.50) scale(0.9376 1)" font-size="10.14" font-weight="bold" text-anchor="middle" fill="#000" stroke="#000" stroke-width="0.22">Circulating heparan sulfate</text>
<text transform="translate(463.00 377.00) scale(0.9376 1)" font-size="10.14" font-weight="bold" text-anchor="middle" fill="#000" stroke="#000" stroke-width="0.22">fragments (ng/ml)</text>
<text transform="translate(548.50 333.60) scale(0.942 1)" font-size="8.85" text-anchor="end" fill="#222" stroke="#222" stroke-width="0.12"><tspan font-style="italic">r</tspan> = 0.59,<tspan font-style="italic">P</tspan> = 0.006, <tspan font-style="italic">n</tspan> = 19</text>
<ellipse cx="451.6" cy="244.1" rx="1.68" ry="1.92"/>
<ellipse cx="528.7" cy="246.7" rx="1.68" ry="1.92"/>
<ellipse cx="421.0" cy="247.8" rx="1.68" ry="1.92"/>
<ellipse cx="434.6" cy="255.6" rx="1.68" ry="1.92"/>
<ellipse cx="421.6" cy="261.1" rx="1.68" ry="1.92"/>
<ellipse cx="419.9" cy="263.7" rx="1.68" ry="1.92"/>
<ellipse cx="406.0" cy="263.7" rx="1.68" ry="1.92"/>
<ellipse cx="433.5" cy="263.7" rx="1.68" ry="1.92"/>
<ellipse cx="461.2" cy="266.3" rx="1.68" ry="1.92"/>
<ellipse cx="462.3" cy="276.3" rx="1.68" ry="1.92"/>
<ellipse cx="431.8" cy="278.3" rx="1.68" ry="1.92"/>
<ellipse cx="437.8" cy="277.5" rx="1.68" ry="1.92"/>
<ellipse cx="400.8" cy="301.8" rx="1.68" ry="1.92"/>
<ellipse cx="404.3" cy="300.9" rx="1.68" ry="1.92"/>
<ellipse cx="412.9" cy="309.9" rx="1.68" ry="1.92"/>
<ellipse cx="410.8" cy="313.9" rx="1.68" ry="1.92"/>
<ellipse cx="405.1" cy="318.8" rx="1.68" ry="1.92"/>
<ellipse cx="409.1" cy="319.7" rx="1.68" ry="1.92"/>
<ellipse cx="404.5" cy="321.7" rx="1.68" ry="1.92"/>
</g>
</svg>
</body></html>
